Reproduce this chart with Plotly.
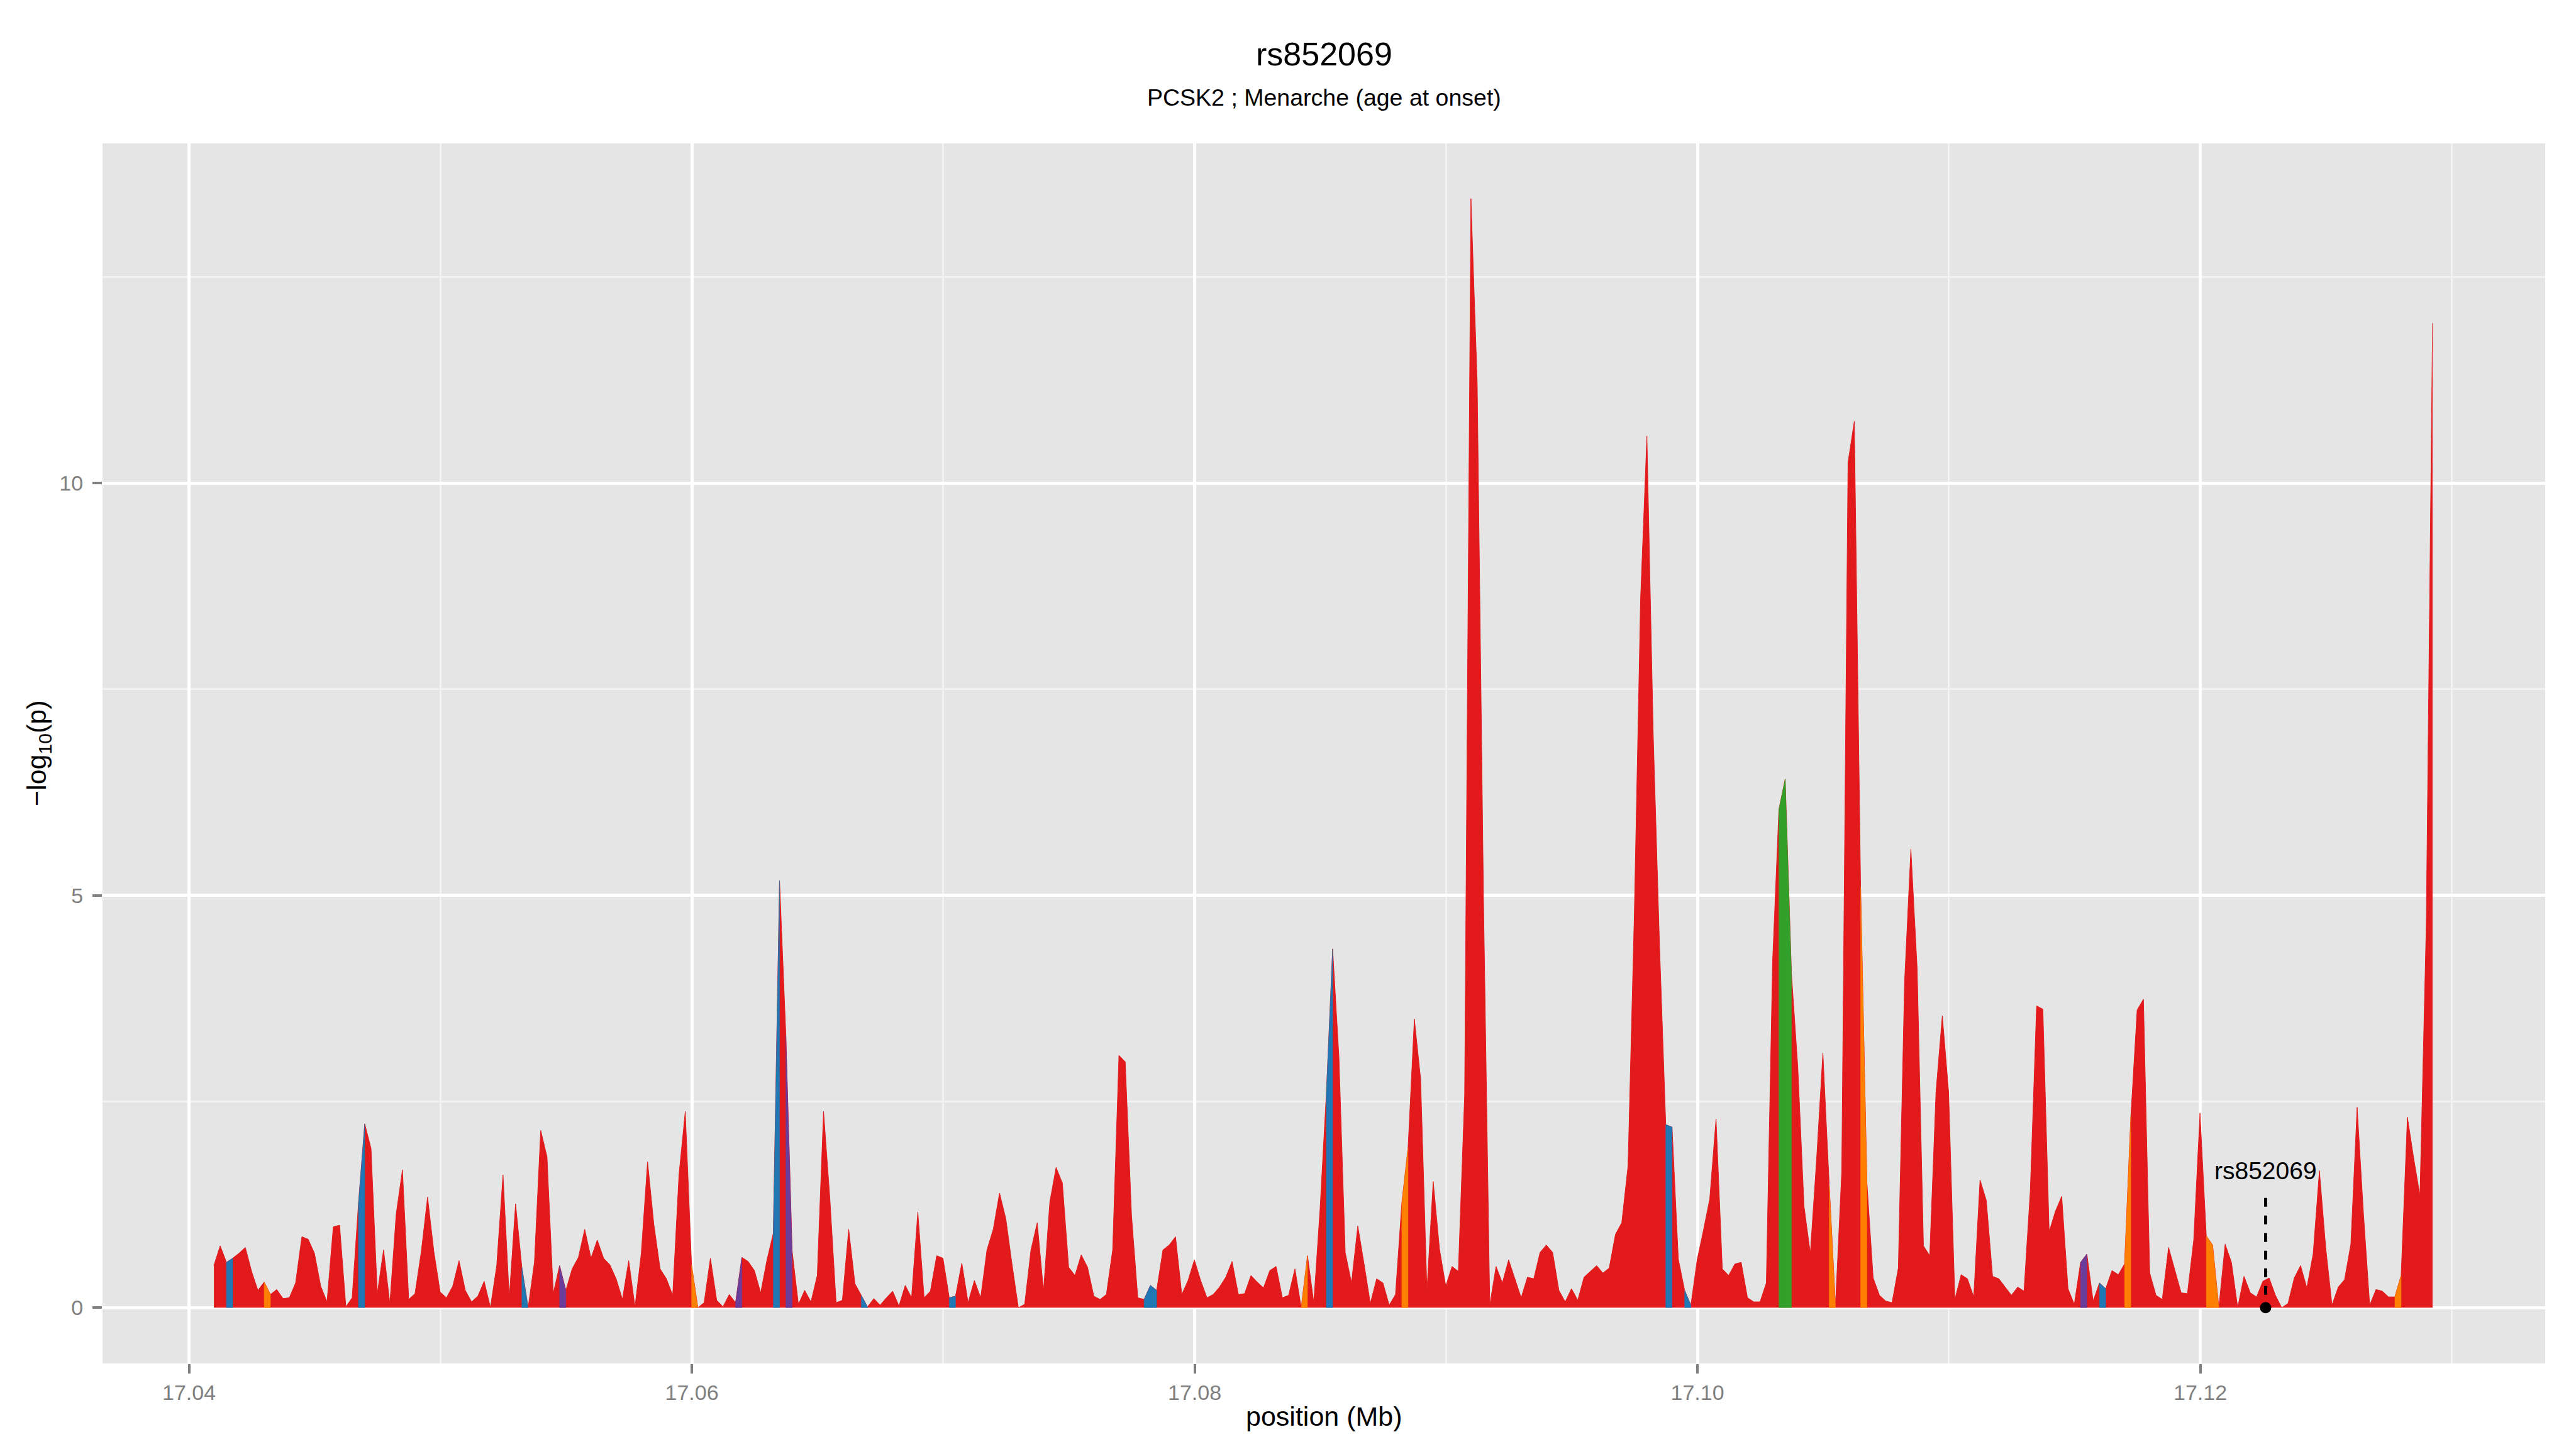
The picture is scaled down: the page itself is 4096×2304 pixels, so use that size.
import numpy as np
import plotly.graph_objects as go

# ---------------- data ----------------
# SNP positions (kb offset from 17,000 kb = 17 Mb)
pos_kb = [
    40.99, 41.24, 41.49, 41.74, 41.99, 42.24, 42.49, 42.74,
    42.99, 43.24, 43.49, 43.74, 43.99, 44.24, 44.49, 44.74,
    44.99, 45.24, 45.49, 45.74, 45.99, 46.24, 46.49, 46.74,
    46.99, 47.24, 47.49, 47.74, 47.99, 48.24, 48.49, 48.74,
    48.99, 49.24, 49.49, 49.74, 49.99, 50.24, 50.49, 50.74,
    50.99, 51.24, 51.49, 51.74, 51.99, 52.24, 52.49, 52.74,
    52.99, 53.24, 53.49, 53.74, 53.99, 54.24, 54.49, 54.74,
    54.99, 55.24, 55.49, 55.74, 55.99, 56.24, 56.49, 56.74,
    56.99, 57.24, 57.49, 57.74, 57.99, 58.24, 58.49, 58.74,
    58.99, 59.24, 59.49, 59.74, 59.99, 60.24, 60.49, 60.74,
    60.99, 61.24, 61.49, 61.74, 61.99, 62.24, 62.49, 62.74,
    62.99, 63.24, 63.49, 63.74, 63.99, 64.24, 64.49, 64.74,
    64.99, 65.24, 65.49, 65.74, 65.99, 66.24, 66.49, 66.74,
    66.99, 67.24, 67.49, 67.74, 67.99, 68.24, 68.49, 68.74,
    68.99, 69.24, 69.49, 69.74, 69.99, 70.24, 70.49, 70.74,
    70.99, 71.24, 71.49, 71.74, 71.99, 72.24, 72.49, 72.74,
    72.99, 73.24, 73.49, 73.74, 73.99, 74.24, 74.49, 74.74,
    74.99, 75.24, 75.49, 75.74, 75.99, 76.24, 76.49, 76.74,
    76.99, 77.24, 77.49, 77.74, 77.99, 78.24, 78.49, 78.74,
    78.99, 79.24, 79.49, 79.74, 79.99, 80.24, 80.49, 80.74,
    80.99, 81.24, 81.49, 81.74, 81.99, 82.24, 82.49, 82.74,
    82.99, 83.24, 83.49, 83.74, 83.99, 84.24, 84.49, 84.74,
    84.99, 85.24, 85.49, 85.74, 85.99, 86.24, 86.49, 86.74,
    86.99, 87.24, 87.49, 87.74, 87.99, 88.24, 88.49, 88.74,
    88.99, 89.24, 89.49, 89.74, 89.99, 90.24, 90.49, 90.74,
    90.99, 91.24, 91.49, 91.74, 91.99, 92.24, 92.49, 92.74,
    92.99, 93.24, 93.49, 93.74, 93.99, 94.24, 94.49, 94.74,
    94.99, 95.24, 95.49, 95.74, 95.99, 96.24, 96.49, 96.74,
    96.99, 97.24, 97.49, 97.74, 97.99, 98.24, 98.49, 98.74,
    98.99, 99.24, 99.49, 99.74, 99.99, 100.24, 100.49, 100.74,
    100.99, 101.24, 101.49, 101.74, 101.99, 102.24, 102.49, 102.74,
    102.99, 103.24, 103.49, 103.74, 103.99, 104.24, 104.49, 104.74,
    104.99, 105.24, 105.49, 105.74, 105.99, 106.24, 106.49, 106.74,
    106.99, 107.24, 107.49, 107.74, 107.99, 108.24, 108.49, 108.74,
    108.99, 109.24, 109.49, 109.74, 109.99, 110.24, 110.49, 110.74,
    110.99, 111.24, 111.49, 111.74, 111.99, 112.24, 112.49, 112.74,
    112.99, 113.24, 113.49, 113.74, 113.99, 114.24, 114.49, 114.74,
    114.99, 115.24, 115.49, 115.74, 115.99, 116.24, 116.49, 116.74,
    116.99, 117.24, 117.49, 117.74, 117.99, 118.24, 118.49, 118.74,
    118.99, 119.24, 119.49, 119.74, 119.99, 120.24, 120.49, 120.74,
    120.99, 121.24, 121.49, 121.74, 121.99, 122.24, 122.49, 122.74,
    122.99, 123.24, 123.49, 123.74, 123.99, 124.24, 124.49, 124.74,
    124.99, 125.24, 125.49, 125.74, 125.99, 126.24, 126.49, 126.74,
    126.99, 127.24, 127.49, 127.74, 127.99, 128.24, 128.49, 128.74,
    128.99, 129.24,
]

# -log10(p) for each position
neglog10p = [
    0.51, 0.75, 0.55, 0.60, 0.66, 0.73, 0.44, 0.21,
    0.31, 0.16, 0.22, 0.11, 0.12, 0.30, 0.86, 0.83,
    0.66, 0.26, 0.07, 0.98, 1.00, 0.01, 0.12, 1.26,
    2.23, 1.93, 0.17, 0.70, 0.05, 1.13, 1.67, 0.10,
    0.17, 0.68, 1.34, 0.68, 0.19, 0.12, 0.26, 0.57,
    0.21, 0.07, 0.14, 0.32, 0.00, 0.51, 1.61, 0.12,
    1.26, 0.49, 0.00, 0.55, 2.15, 1.83, 0.17, 0.51,
    0.21, 0.47, 0.61, 0.95, 0.60, 0.82, 0.60, 0.52,
    0.35, 0.10, 0.57, 0.01, 0.66, 1.77, 1.01, 0.47,
    0.35, 0.15, 1.61, 2.38, 0.52, 0.00, 0.06, 0.60,
    0.09, 0.01, 0.16, 0.06, 0.61, 0.56, 0.45, 0.18,
    0.58, 0.90, 5.18, 3.31, 0.69, 0.04, 0.21, 0.07,
    0.39, 2.38, 1.33, 0.06, 0.09, 0.95, 0.29, 0.15,
    0.01, 0.11, 0.03, 0.12, 0.20, 0.02, 0.27, 0.12,
    1.16, 0.12, 0.20, 0.63, 0.60, 0.12, 0.14, 0.54,
    0.06, 0.33, 0.12, 0.70, 0.95, 1.39, 1.08, 0.52,
    0.00, 0.04, 0.70, 1.03, 0.20, 1.28, 1.70, 1.51,
    0.49, 0.39, 0.64, 0.49, 0.14, 0.10, 0.16, 0.70,
    3.06, 2.98, 1.12, 0.12, 0.10, 0.27, 0.21, 0.70,
    0.76, 0.86, 0.16, 0.33, 0.58, 0.33, 0.12, 0.16,
    0.25, 0.37, 0.56, 0.16, 0.17, 0.39, 0.31, 0.24,
    0.45, 0.50, 0.12, 0.15, 0.47, 0.00, 0.63, 0.06,
    1.20, 2.60, 4.35, 3.04, 0.67, 0.30, 0.99, 0.53,
    0.05, 0.35, 0.30, 0.03, 0.16, 1.26, 1.94, 3.50,
    2.77, 0.21, 1.53, 0.71, 0.26, 0.50, 0.44, 2.58,
    13.45, 11.21, 4.96, 0.03, 0.50, 0.30, 0.58, 0.35,
    0.12, 0.37, 0.35, 0.67, 0.76, 0.67, 0.21, 0.07,
    0.23, 0.09, 0.37, 0.44, 0.51, 0.42, 0.48, 0.89,
    1.03, 1.72, 4.78, 8.61, 10.57, 6.97, 4.41, 2.22,
    2.19, 0.59, 0.21, 0.03, 0.58, 0.94, 1.32, 2.29,
    0.47, 0.39, 0.53, 0.55, 0.12, 0.07, 0.07, 0.30,
    4.20, 6.04, 6.41, 4.05, 2.93, 1.23, 0.66, 1.80,
    3.09, 1.50, 0.02, 1.65, 10.25, 10.75, 5.10, 1.52,
    0.36, 0.15, 0.08, 0.06, 0.48, 3.96, 5.56, 4.11,
    0.75, 0.63, 2.62, 3.54, 2.62, 0.10, 0.40, 0.35,
    0.13, 1.55, 1.30, 0.38, 0.35, 0.25, 0.15, 0.25,
    0.20, 1.42, 3.66, 3.62, 0.92, 1.17, 1.35, 0.23,
    0.04, 0.55, 0.65, 0.08, 0.30, 0.23, 0.45, 0.40,
    0.53, 2.32, 3.61, 3.74, 0.42, 0.15, 0.10, 0.73,
    0.46, 0.18, 0.17, 0.82, 2.36, 0.87, 0.76, 0.00,
    0.77, 0.55, 0.00, 0.38, 0.18, 0.13, 0.32, 0.36,
    0.15, 0.00, 0.05, 0.36, 0.51, 0.24, 0.65, 1.66,
    0.73, 0.03, 0.25, 0.34, 0.77, 2.43, 1.15, 0.03,
    0.22, 0.20, 0.13, 0.13, 0.39, 2.31, 1.81, 1.36,
    4.64, 11.94,
]

# intervals (given by the starting SNP position, kb) coloured by LD class
ld_blue_kb = [41.49, 46.74, 53.24, 63.24, 66.74, 70.24, 77.99, 78.24,
              85.24, 98.74, 99.49, 115.99]
ld_orange_kb = [42.99, 59.99, 84.24, 88.24, 105.24, 106.49, 116.99,
                120.24, 120.49, 127.74]
ld_purple_kb = [54.74, 61.74, 63.74, 115.24]
ld_green_kb = [103.24, 103.49]

# lead SNP annotation
lead_snp = "rs852069"
lead_pos_mb = 17.1226
lead_label_y = 1.66
lead_line_top = 1.33

title_text = "rs852069"
subtitle_text = "PCSK2 ; Menarche (age at onset)"

x_major = [17.04, 17.06, 17.08, 17.10, 17.12]
x_major_labels = ["17.04", "17.06", "17.08", "17.10", "17.12"]
x_minor = [17.05, 17.07, 17.09, 17.11, 17.13]
y_major = [0, 5, 10]
y_major_labels = ["0", "5", "10"]
y_minor = [2.5, 7.5, 12.5]

# ---------------- style ----------------
RED = "#E31A1C"
BLUE = "#1F78B4"
ORANGE = "#FF7F00"
PURPLE = "#6A3D9A"
GREEN = "#33A02C"
FONT = "Liberation Sans, Arial, Helvetica, sans-serif"
GREY50 = "#7F7F7F"

pos_mb = [17.0 + v / 1000.0 for v in pos_kb]
pos_arr = np.array(pos_kb)

fig = go.Figure()

fig.add_trace(go.Scatter(
    x=pos_mb, y=neglog10p, mode="lines", fill="tozeroy",
    fillcolor=RED, line=dict(color=RED, width=1),
    hoverinfo="skip", showlegend=False,
))


def strips(starts):
    xs, ys = [], []
    for s in starts:
        i = int(np.argmin(np.abs(pos_arr - s)))
        xs += [pos_mb[i], pos_mb[i], pos_mb[i + 1], pos_mb[i + 1], pos_mb[i], None]
        ys += [0, neglog10p[i], neglog10p[i + 1], 0, 0, None]
    return xs, ys


for starts, col in [(ld_blue_kb, BLUE), (ld_orange_kb, ORANGE),
                    (ld_purple_kb, PURPLE), (ld_green_kb, GREEN)]:
    xs, ys = strips(starts)
    fig.add_trace(go.Scatter(
        x=xs, y=ys, mode="lines", fill="toself", fillcolor=col,
        line=dict(color=col, width=0.5), hoverinfo="skip", showlegend=False,
    ))

# lead SNP dashed line + dot
fig.add_trace(go.Scatter(
    x=[lead_pos_mb, lead_pos_mb], y=[lead_line_top, 0], mode="lines",
    line=dict(color="black", width=4.8, dash="14px,14px"),
    hoverinfo="skip", showlegend=False,
))
fig.add_trace(go.Scatter(
    x=[lead_pos_mb], y=[0], mode="markers",
    marker=dict(color="black", size=18, line=dict(width=0)),
    hoverinfo="skip", showlegend=False,
))

W, H = 4096, 2304
ML, MR, MT, MB = 163, 49, 228, 136
PH = H - MT - MB
PW = W - ML - MR


def py(px_from_top):
    return (H - MB - px_from_top) / PH


annotations = [
    dict(text=lead_snp, x=lead_pos_mb, y=lead_label_y, xref="x", yref="y",
         showarrow=False, font=dict(family=FONT, size=39, color="black"),
         xanchor="center", yanchor="middle"),
    dict(text=title_text, x=0.5, y=py(86), xref="paper", yref="paper",
         showarrow=False, font=dict(family=FONT, size=52, color="black"),
         xanchor="center", yanchor="middle"),
    dict(text=subtitle_text, x=0.5, y=py(155), xref="paper", yref="paper",
         showarrow=False, font=dict(family=FONT, size=37.5, color="black"),
         xanchor="center", yanchor="middle"),
    dict(text="position (Mb)", x=0.5, y=py(2252), xref="paper", yref="paper",
         showarrow=False, font=dict(family=FONT, size=43, color="black"),
         xanchor="center", yanchor="middle"),
    dict(text="\u2212log<sub>10</sub>(p)", x=(61 - ML) / PW, y=0.5,
         xref="paper", yref="paper", textangle=-90,
         showarrow=False, font=dict(family=FONT, size=43, color="black"),
         xanchor="center", yanchor="middle"),
]

fig.update_layout(
    width=W, height=H,
    margin=dict(l=ML, r=MR, t=MT, b=MB, pad=0),
    paper_bgcolor="white", plot_bgcolor="#E5E5E5",
    showlegend=False,
    font=dict(family=FONT, color="black"),
    annotations=annotations,
    xaxis=dict(
        range=[17.03656, 17.13372], tickmode="array",
        tickvals=x_major, ticktext=x_major_labels,
        ticks="outside", ticklen=15, tickwidth=4, tickcolor=GREY50,
        tickfont=dict(family=FONT, size=34, color=GREY50),
        ticklabelstandoff=1,
        showgrid=True, gridcolor="white", gridwidth=5,
        minor=dict(tickmode="array", tickvals=x_minor, showgrid=True,
                   gridcolor="#F2F2F2", gridwidth=2.5, ticks=""),
        zeroline=False, showline=False,
    ),
    yaxis=dict(
        range=[-0.677, 14.12], tickmode="array",
        tickvals=y_major, ticktext=y_major_labels,
        ticks="outside", ticklen=15, tickwidth=4, tickcolor=GREY50,
        tickfont=dict(family=FONT, size=34, color=GREY50),
        ticklabelstandoff=8,
        showgrid=True, gridcolor="white", gridwidth=5,
        minor=dict(tickmode="array", tickvals=y_minor, showgrid=True,
                   gridcolor="#F2F2F2", gridwidth=2.5, ticks=""),
        zeroline=False, showline=False,
    ),
)

fig.write_html(
    "out.html",
    config={"displayModeBar": False},
    post_script="document.body.style.margin='0';document.body.style.padding='0';",
)
